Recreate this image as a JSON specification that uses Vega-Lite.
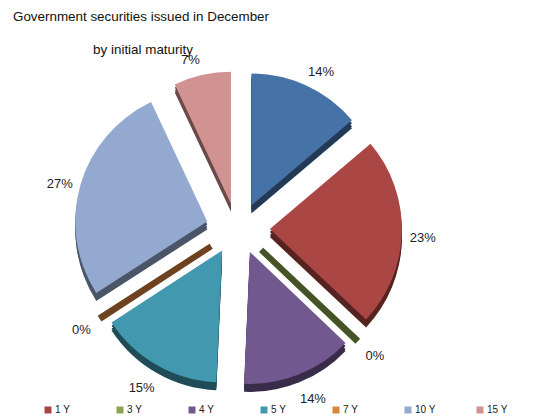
{
"$schema":"https://vega.github.io/schema/vega-lite/v6.json",
"width":544,"height":416,"padding":0,"autosize":{"type":"none"},
"background":"white",
"title":{"text":"Government securities issued in December","anchor":"start","frame":"group","orient":"top","offset":-34,"dx":13,"font":"Liberation Sans","fontSize":13.4,"fontWeight":"normal","color":"#111111","baseline":"alphabetic"},
"data":{"values":[
{"maturity":"","value":13.8},
{"maturity":"1 Y","value":23.2},
{"maturity":"3 Y","value":0.1},
{"maturity":"4 Y","value":13.6},
{"maturity":"5 Y","value":15.1},
{"maturity":"7 Y","value":0.1},
{"maturity":"10 Y","value":27.1},
{"maturity":"15 Y","value":7}
]},
"transform":[
{"window":[{"op":"sum","field":"value","as":"cum"}]},
{"calculate":"datum.cum-datum.value","as":"start"},
{"calculate":"datum.value/100","as":"share"},
{"calculate":"(datum.cum-datum.value/2)/100*2*PI","as":"mid"},
{"calculate":"0.24*sin(datum.mid)","as":"ex"},
{"calculate":"0.19*cos(datum.mid)","as":"ey"},
{"calculate":"1.32*sin(datum.mid)+0.07*(sin(datum.mid)>0?1:-1)","as":"lx"},
{"calculate":"1.34*cos(datum.mid)","as":"ly"}
],
"layer":[
{"encoding":{
"x":{"field":"ex","type":"quantitative","scale":{"domain":[-1.789,2.301]},"axis":null},
"y":{"field":"ey","type":"quantitative","scale":{"domain":[-1.41,1.718]},"axis":null},
"theta":{"field":"start","type":"quantitative","stack":null,"scale":{"domain":[0,100],"range":[0,6.28319]}},
"theta2":{"field":"cum"}
},
"layer":[
{"transform":[{"filter":"datum.value>=1"}],"mark":{"type":"arc","radius":132,"yOffset":3},
"encoding":{"color":{"field":"maturity","type":"nominal","legend":null,"scale":{"domain":["","1 Y","3 Y","4 Y","5 Y","7 Y","10 Y","15 Y"],"range":["#233a57","#562321","#455327","#392c48","#204c58","#6e421e","#4a5568","#694a49"]}}}},
{"transform":[{"filter":"datum.value>=1"}],"mark":{"type":"arc","radius":132,"yOffset":6},
"encoding":{"color":{"field":"maturity","type":"nominal","legend":null,"scale":{"domain":["","1 Y","3 Y","4 Y","5 Y","7 Y","10 Y","15 Y"],"range":["#233a57","#562321","#455327","#392c48","#204c58","#6e421e","#4a5568","#694a49"]}}}},
{"transform":[{"filter":"datum.value>=1"}],"mark":{"type":"arc","radius":132,"yOffset":8},
"encoding":{"color":{"field":"maturity","type":"nominal","legend":null,"scale":{"domain":["","1 Y","3 Y","4 Y","5 Y","7 Y","10 Y","15 Y"],"range":["#233a57","#562321","#455327","#392c48","#204c58","#6e421e","#4a5568","#694a49"]}}}},
{"transform":[{"filter":"datum.value<1"}],"mark":{"type":"arc","radius":130,"yOffset":4,"strokeWidth":6},
"encoding":{"color":{"field":"maturity","type":"nominal","legend":null,"scale":{"domain":["","1 Y","3 Y","4 Y","5 Y","7 Y","10 Y","15 Y"],"range":["#233a57","#562321","#455327","#392c48","#204c58","#6e421e","#4a5568","#694a49"]}},
"stroke":{"field":"maturity","type":"nominal","legend":null,"scale":{"domain":["","1 Y","3 Y","4 Y","5 Y","7 Y","10 Y","15 Y"],"range":["#233a57","#562321","#455327","#392c48","#204c58","#6e421e","#4a5568","#694a49"]}}}},
{"transform":[{"filter":"datum.value>=1"}],"mark":{"type":"arc","radius":132},
"encoding":{"color":{"field":"maturity","type":"nominal","scale":{"domain":["","1 Y","3 Y","4 Y","5 Y","7 Y","10 Y","15 Y"],"range":["#4572A7","#AA4643","#89A54E","#71588F","#4198AF","#DB843D","#93A9CF","#D19392"]},
"legend":{"title":null,"values":["1 Y","3 Y","4 Y","5 Y","7 Y","10 Y","15 Y"],"orient":"none","legendX":43,"legendY":405,"direction":"horizontal","columns":7,"gridAlign":"all","columnPadding":39,"symbolType":"square","symbolSize":49,"symbolStrokeWidth":0,"labelFont":"Liberation Sans","labelFontSize":10,"labelColor":"#222222","labelOffset":2,"padding":0}}}}
],
"resolve":{"scale":{"color":"independent","stroke":"independent"}}
},
{"mark":{"type":"text","font":"Liberation Sans","fontSize":13,"color":"#222222","dy":5},
"encoding":{
"x":{"field":"lx","type":"quantitative","scale":{"domain":[-1.789,2.301]},"axis":null},
"y":{"field":"ly","type":"quantitative","scale":{"domain":[-1.41,1.718]},"axis":null},
"text":{"field":"share","type":"quantitative","format":".0%"}
}},
{"data":{"values":[{"note":"by initial maturity"}]},
"mark":{"type":"text","font":"Liberation Sans","fontSize":13.4,"color":"#111111"},
"encoding":{
"x":{"datum":-0.714,"type":"quantitative","scale":{"domain":[-1.789,2.301]},"axis":null},
"y":{"datum":1.342,"type":"quantitative","scale":{"domain":[-1.41,1.718]},"axis":null},
"text":{"field":"note","type":"nominal"}
}}
],
"resolve":{"scale":{"color":"independent"}},
"config":{"view":{"stroke":null}}
}
